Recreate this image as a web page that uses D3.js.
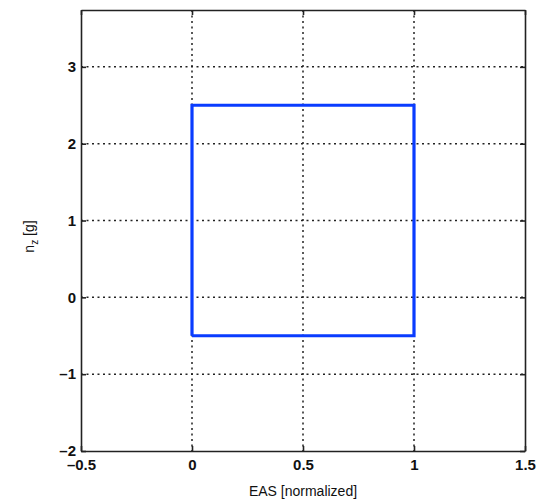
<!DOCTYPE html>
<html>
<head>
<meta charset="utf-8">
<script src="https://cdn.jsdelivr.net/npm/d3@7"></script>
<style>
  body { margin: 0; background: #fff; }
  text { font-family: "Liberation Sans", Arial, sans-serif; }
</style>
</head>
<body>
<div id="chart"></div>
<script>
// envelope outline (EAS normalized, load factor nz)
var easValues = [0, 1, 1, 0, 0];
var nzValues = [-0.5, -0.5, 2.5, 2.5, -0.5];
var xTicks = [-0.5, 0, 0.5, 1, 1.5];
var yTicks = [-2, -1, 0, 1, 2, 3];
var xDomain = [-0.5, 1.5];
var yDomain = [-2, 3.74];

var plotLeft = 81, plotRight = 525, plotTop = 10, plotBottom = 451;

var svg = d3.select("#chart").append("svg")
  .attr("width", 539)
  .attr("height", 500);

var x = d3.scaleLinear().domain(xDomain).range([plotLeft, plotRight]);
var y = d3.scaleLinear().domain(yDomain).range([plotBottom, plotTop]);

var fmt = function (d) { return String(d).replace("-", "\u2013"); };

// grid
svg.append("g").selectAll("line")
  .data(xTicks.slice(1, -1))
  .enter().append("line")
  .attr("x1", d => x(d)).attr("x2", d => x(d))
  .attr("y1", plotTop).attr("y2", plotBottom)
  .attr("stroke", "#222").attr("stroke-width", 1.5)
  .attr("stroke-dasharray", "2,3.5");

svg.append("g").selectAll("line")
  .data(yTicks.slice(1))
  .enter().append("line")
  .attr("y1", d => y(d)).attr("y2", d => y(d))
  .attr("x1", plotLeft).attr("x2", plotRight)
  .attr("stroke", "#222").attr("stroke-width", 1.5)
  .attr("stroke-dasharray", "2,3.5");

// axes
svg.append("g")
  .attr("transform", "translate(0," + plotBottom + ")")
  .call(d3.axisBottom(x).tickValues(xTicks).tickFormat(fmt).tickSizeInner(-5).tickSizeOuter(0).tickPadding(8));
svg.append("g")
  .attr("transform", "translate(" + plotLeft + ",0)")
  .call(d3.axisLeft(y).tickValues(yTicks).tickFormat(fmt).tickSizeInner(-5).tickSizeOuter(0).tickPadding(5));
svg.append("g")
  .attr("transform", "translate(0," + plotTop + ")")
  .call(d3.axisTop(x).tickValues(xTicks).tickFormat("").tickSizeInner(-5).tickSizeOuter(0));
svg.append("g")
  .attr("transform", "translate(" + plotRight + ",0)")
  .call(d3.axisRight(y).tickValues(yTicks).tickFormat("").tickSizeInner(-5).tickSizeOuter(0));

svg.selectAll(".domain").attr("stroke", "#222").attr("stroke-width", 1.6);
svg.selectAll(".tick line").attr("stroke", "#222").attr("stroke-width", 1.6);
svg.selectAll(".tick text")
  .attr("font-size", 15).attr("font-weight", "bold").attr("fill", "#111")
  .style("font-family", "'Liberation Sans', Arial, sans-serif");

// envelope
var pts = easValues.map((v, i) => [v, nzValues[i]]);
svg.append("path")
  .datum(pts)
  .attr("fill", "none")
  .attr("stroke", "#0a3cff")
  .attr("stroke-width", 3.2)
  .attr("stroke-linejoin", "miter")
  .attr("d", d3.line().x(d => x(d[0])).y(d => y(d[1])));

// labels
svg.append("text")
  .attr("x", (plotLeft + plotRight) / 2).attr("y", 496)
  .attr("text-anchor", "middle").attr("font-size", 14).attr("fill", "#111")
  .text("EAS [normalized]");

var yl = svg.append("text")
  .attr("transform", "translate(34," + ((plotTop + plotBottom) / 2 + 6) + ") rotate(-90)")
  .attr("text-anchor", "middle").attr("font-size", 14).attr("fill", "#111");
yl.append("tspan").text("n");
yl.append("tspan").attr("font-size", 10).attr("dy", 4).text("z");
yl.append("tspan").attr("dy", -4).text(" [g]");
</script>
</body>
</html>
